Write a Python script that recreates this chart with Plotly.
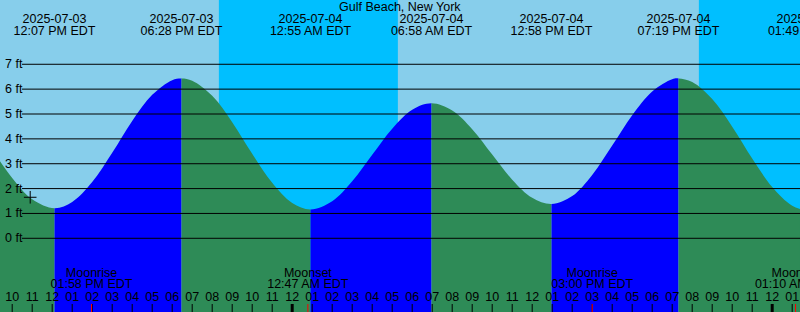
import pandas as pd
import plotly.graph_objects as go

# ---------------- data ----------------
TITLE = "Gulf Beach, New York"
TZ_LABEL = "EDT"

# tide extremes (local time) and heights in feet
extreme_times = ["2025-07-03 12:07", "2025-07-03 18:28", "2025-07-04 00:55",
                 "2025-07-04 06:58", "2025-07-04 12:58", "2025-07-04 19:19",
                 "2025-07-05 01:49"]
extreme_heights = [1.21, 6.43, 1.16, 5.43, 1.38, 6.43, 1.10]

# curve heights read at every hour (09:00 Jul 3 ... 01:00 Jul 5)
hourly_times = pd.date_range("2025-07-03 09:00", "2025-07-05 01:00", freq="h")
hourly_heights = [3.57, 2.43, 1.57, 1.21, 1.46, 2.26, 3.44, 4.72, 5.77, 6.36,
                  6.34, 5.73, 4.67, 3.40, 2.23, 1.42, 1.16, 1.49, 2.29, 3.36,
                  4.41, 5.17, 5.43, 5.14, 4.39, 3.37, 2.36, 1.63, 1.38, 1.70,
                  2.55, 3.73, 4.95, 5.91, 6.40, 6.29, 5.60, 4.49, 3.21, 2.06,
                  1.31]

# sun: (start, end) of night periods
night_periods = [("2025-07-03 20:20", "2025-07-04 05:17"),
                 ("2025-07-04 20:20", None)]

# moon events
moon_times = ["2025-07-03 13:58", "2025-07-04 00:47", "2025-07-04 15:00", "2025-07-05 01:10"]
moon_events = ["Moonrise", "Moonset", "Moonrise", "Moonset"]

# current-time marker
now_time = "2025-07-03 10:54"
now_height = 1.65

height_ticks = [0, 1, 2, 3, 4, 5, 6, 7]
hour_ticks = pd.date_range("2025-07-03 10:00", "2025-07-05 01:00", freq="h")
midnight_ticks = ["2025-07-04 00:00", "2025-07-05 00:00"]

# ---------------- view / style ----------------
W, H = 800, 312
VIEW = [pd.Timestamp("2025-07-03 09:23:24"), pd.Timestamp("2025-07-05 01:23:24")]
Y_RANGE = [-2.965, 9.586]
DAY = "#87CEEB"
NIGHT = "#00BFFF"
RISING = "#0000FF"
FALLING = "#2E8B57"
FONT = "Liberation Sans, Arial, sans-serif"
FS = 12.5
BASE = -4.0


def y_at_px(py):
    return Y_RANGE[1] - py * (Y_RANGE[1] - Y_RANGE[0]) / H


def frac(t):
    return (t - VIEW[0]) / (VIEW[1] - VIEW[0])


fig = go.Figure()
layout_axes = {}

# one continuous curve through the readings and the extremes
ext_t = pd.to_datetime(extreme_times)
gap = pd.Timedelta(minutes=12)
curve = [(t, h) for t, h in zip(ext_t, extreme_heights)]
for t, h in zip(hourly_times, hourly_heights):
    if all(abs(t - e) > gap for e in ext_t):
        curve.append((t, h))
curve.sort()
cx = [t for t, _ in curve]
cy = [h for _, h in curve]

# water fills: every rise / fall gets its own x-axis window showing the same curve
bounds = [(hourly_times[0], hourly_heights[0])] + list(zip(ext_t, extreme_heights))
axis_n = 2
for (t0, h0), (t1, h1) in zip(bounds[:-1], bounds[1:]):
    a, b = max(t0, VIEW[0]), min(t1, VIEW[1])
    if a >= b:
        continue
    color = RISING if h1 > h0 else FALLING
    xa = f"x{axis_n}"
    layout_axes[f"xaxis{axis_n}"] = dict(type="date", range=[a, b],
                                         domain=[frac(a), frac(b)], anchor="y",
                                         visible=False, fixedrange=True)
    fig.add_trace(go.Scatter(x=[cx[0], cx[-1]], y=[BASE, BASE], mode="lines", xaxis=xa,
                             line=dict(width=0), hoverinfo="skip", showlegend=False))
    fig.add_trace(go.Scatter(x=cx, y=cy, mode="lines", xaxis=xa,
                             line=dict(width=0, shape="spline", color=color),
                             fill="tonexty", fillcolor=color,
                             hoverinfo="skip", showlegend=False))
    axis_n += 1

# top-most full-width axis for labels and marker
TOP = f"x{axis_n}"
layout_axes[f"xaxis{axis_n}"] = dict(type="date", range=VIEW, domain=[0, 1], anchor="y",
                                     visible=False, fixedrange=True)
txt_font = dict(family=FONT, size=FS, color="black")

fig.add_trace(go.Scatter(x=[now_time], y=[now_height], mode="markers", xaxis=TOP,
                         marker=dict(symbol="cross-thin", size=9,
                                     line=dict(width=1, color="black")),
                         hoverinfo="skip", showlegend=False))

ext_dates = [t.strftime("%Y-%m-%d") for t in ext_t]
ext_clock = [t.strftime("%I:%M %p ") + TZ_LABEL for t in ext_t]
fig.add_trace(go.Scatter(x=ext_t, y=[y_at_px(19.5)] * len(ext_t), mode="text", xaxis=TOP,
                         text=ext_dates, textposition="middle center",
                         textfont=txt_font, hoverinfo="skip", showlegend=False))
fig.add_trace(go.Scatter(x=ext_t, y=[y_at_px(31.5)] * len(ext_t), mode="text", xaxis=TOP,
                         text=ext_clock, textposition="middle center",
                         textfont=txt_font, hoverinfo="skip", showlegend=False))

mt = pd.to_datetime(moon_times)
fig.add_trace(go.Scatter(x=mt, y=[y_at_px(273.5)] * len(mt), mode="text", xaxis=TOP,
                         text=moon_events, textposition="middle center",
                         textfont=txt_font, hoverinfo="skip", showlegend=False))
fig.add_trace(go.Scatter(x=mt, y=[y_at_px(285)] * len(mt), mode="text", xaxis=TOP,
                         text=[t.strftime("%I:%M %p ") + TZ_LABEL for t in mt],
                         textposition="middle center",
                         textfont=txt_font, hoverinfo="skip", showlegend=False))

fig.add_trace(go.Scatter(x=hour_ticks, y=[y_at_px(297.8)] * len(hour_ticks), mode="text",
                         xaxis=TOP, text=[t.strftime("%I") for t in hour_ticks],
                         textposition="middle center",
                         textfont=txt_font, hoverinfo="skip", showlegend=False))

shapes = []
for s, e in night_periods:
    shapes.append(dict(type="rect", xref="x", yref="paper", x0=s, x1=e or VIEW[1],
                       y0=0, y1=1, fillcolor=NIGHT, line=dict(width=0), layer="below"))
for v in height_ticks:
    shapes.append(dict(type="line", xref="paper", yref="y", x0=22 / W, x1=1, y0=v, y1=v,
                       line=dict(color="black", width=1), layer="above"))
tick_top = 8 / H
for t in hour_ticks:
    shapes.append(dict(type="line", xref="x", yref="paper", x0=t, x1=t, y0=0, y1=tick_top,
                       line=dict(color="black", width=1), layer="above"))
for t in midnight_ticks:
    shapes.append(dict(type="line", xref="x", yref="paper", x0=t, x1=t, y0=0, y1=tick_top,
                       line=dict(color="black", width=3), layer="above"))
for t in mt:
    shapes.append(dict(type="line", xref="x", yref="paper", x0=t, x1=t, y0=0, y1=tick_top,
                       line=dict(color="red", width=1), layer="above"))

annotations = [dict(text=TITLE, xref="paper", yref="paper", x=0.5, y=1 - 7 / H,
                    xanchor="center", yanchor="middle", showarrow=False, font=txt_font)]
for v in height_ticks:
    annotations.append(dict(text=f"{v} ft", xref="paper", yref="y", x=2.5 / W, y=v,
                            xanchor="left", yanchor="middle", showarrow=False,
                            font=txt_font))

fig.update_layout(
    width=W, height=H, margin=dict(l=0, r=0, t=0, b=0),
    paper_bgcolor=DAY, plot_bgcolor="rgba(0,0,0,0)",
    xaxis=dict(type="date", range=VIEW, domain=[0, 1], visible=False, fixedrange=True),
    yaxis=dict(range=Y_RANGE, visible=False, fixedrange=True),
    shapes=shapes, annotations=annotations, showlegend=False,
    **layout_axes,
)
fig.write_html("out.html")
